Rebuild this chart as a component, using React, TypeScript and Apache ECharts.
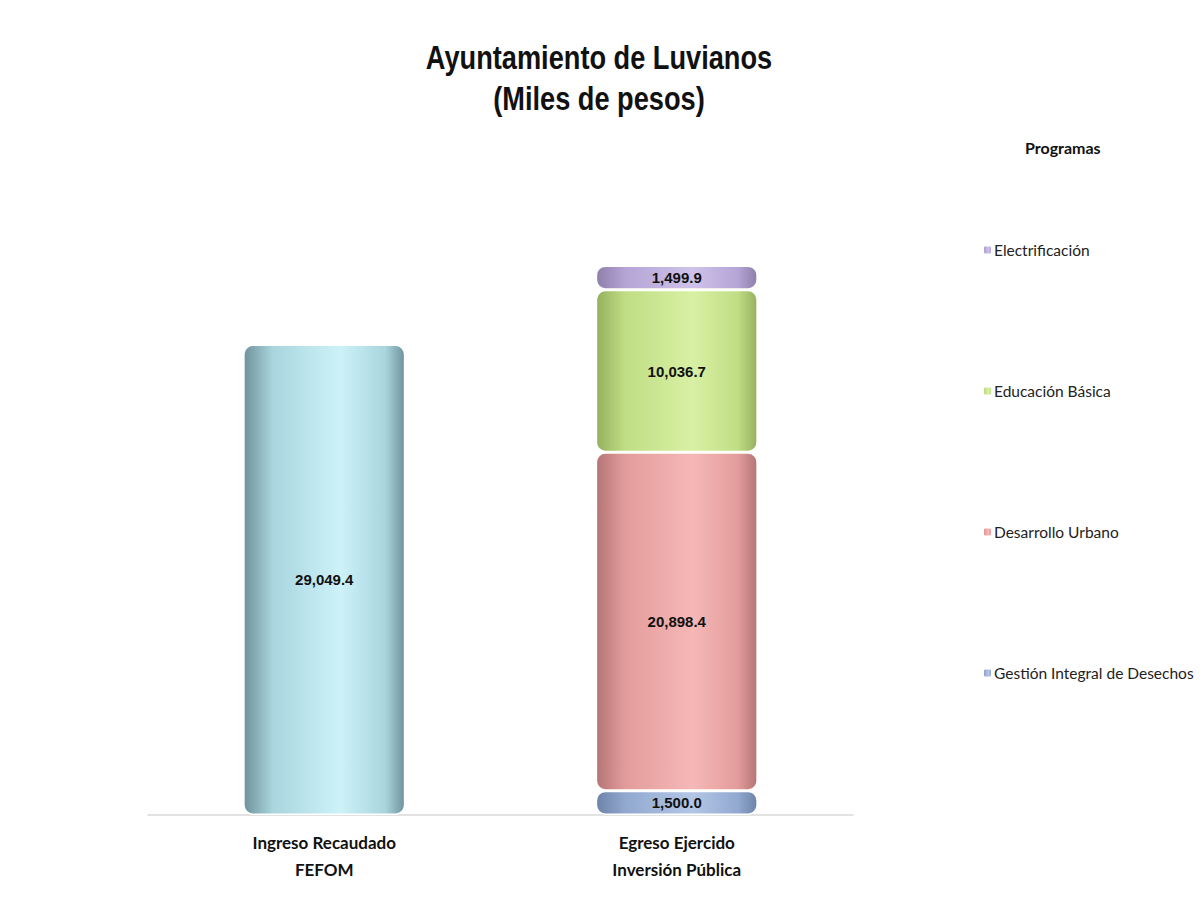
import React, { useEffect, useRef } from "react";
import * as echarts from "echarts";

const categories = ["Ingreso Recaudado\nFEFOM", "Egreso Ejercido\nInversión Pública"];
const ingresoValues = [29049.4, null];
const gestionValues = [null, 1500.0];
const desarrolloValues = [null, 20898.4];
const educacionValues = [null, 10036.7];
const electrificacionValues = [null, 1499.9];
const legendOrder = ["Electrificación", "Educación Básica", "Desarrollo Urbano", "Gestión Integral de Desechos"];
const titleLines = ["Ayuntamiento de Luvianos", "(Miles de pesos)"];

const cyl = (dark: string, mid: string, light: string) =>
  new echarts.graphic.LinearGradient(0, 0, 1, 0, [
    { offset: 0, color: dark },
    { offset: 0.18, color: mid },
    { offset: 0.6, color: light },
    { offset: 0.88, color: mid },
    { offset: 1, color: dark },
  ]);

const fmt = (v: number) =>
  v.toLocaleString("en-US", { minimumFractionDigits: 1, maximumFractionDigits: 1 });

export default function App() {
  const ref = useRef<HTMLDivElement>(null);
  useEffect(() => {
    const chart = echarts.init(ref.current!, undefined, { renderer: "svg" });
    const sans = "'Liberation Sans', Arial, sans-serif";
    const cal = "Lato, 'Open Sans', sans-serif";
    const label = {
      show: true,
      position: "inside",
      fontFamily: sans,
      fontWeight: "bold",
      fontSize: 15,
      color: "#111",
      formatter: (p: any) => fmt(p.value),
    };
    const mk = (name: string, data: any[], color: any) => ({
      name,
      type: "bar",
      stack: "total",
      data,
      barWidth: "46%",
      label,
      itemStyle: { color, borderRadius: 9, borderColor: "#fff", borderWidth: 1.5 },
    });
    chart.setOption({
      animation: false,
      backgroundColor: "#fff",
      graphic: [
        {
          type: "text",
          x: 599,
          y: 57,
          scaleX: 0.8,
          style: {
            text: titleLines[0],
            font: "bold 34px 'Liberation Sans', Arial, sans-serif",
            fill: "#111",
            textAlign: "center",
            textVerticalAlign: "middle",
          },
        },
        {
          type: "text",
          x: 599,
          y: 98,
          scaleX: 0.8,
          style: {
            text: titleLines[1],
            font: "bold 34px 'Liberation Sans', Arial, sans-serif",
            fill: "#111",
            textAlign: "center",
            textVerticalAlign: "middle",
          },
        },
        {
          type: "text",
          left: 1025,
          top: 139,
          style: { text: "Programas", font: "bold 16px Lato, 'Open Sans', sans-serif", fill: "#111" },
        },
      ],
      legend: {
        orient: "vertical",
        left: 977,
        top: 235,
        data: legendOrder,
        itemWidth: 9,
        itemHeight: 9,
        itemGap: 121,
        textStyle: { fontFamily: cal, fontSize: 15.5, lineHeight: 20, color: "#222", padding: [0, 0, 0, -3] },
      },
      grid: { left: 148, right: 351, top: 232, bottom: 88 },
      xAxis: {
        type: "category",
        data: categories,
        axisLine: { show: true, lineStyle: { color: "#d9d9d9", width: 1.5 } },
        axisTick: { show: false },
        axisLabel: {
          margin: 14,
          fontFamily: cal,
          fontWeight: "bold",
          fontSize: 17,
          lineHeight: 27,
          color: "#111",
        },
      },
      yAxis: { type: "value", min: 0, max: 36000, show: false, splitLine: { show: false } },
      series: [
        mk("Ingreso", ingresoValues, cyl("#6f929b", "#a9d5df", "#cdf2f8")),
        mk("Gestión Integral de Desechos", gestionValues, cyl("#6d82a6", "#92a9d0", "#b3c6e6")),
        mk("Desarrollo Urbano", desarrolloValues, cyl("#b57475", "#e39c9c", "#f5b8b6")),
        mk("Educación Básica", educacionValues, cyl("#96b05e", "#c0de84", "#d8f0a4")),
        mk("Electrificación", electrificacionValues, cyl("#8d7eaa", "#b4a5d6", "#cfc2ea")),
      ],
    });
    return () => chart.dispose();
  }, []);
  return (
    <div
      ref={ref}
      style={{ position: "absolute", left: 0, top: 0, width: 1204, height: 903 }}
    />
  );
}
